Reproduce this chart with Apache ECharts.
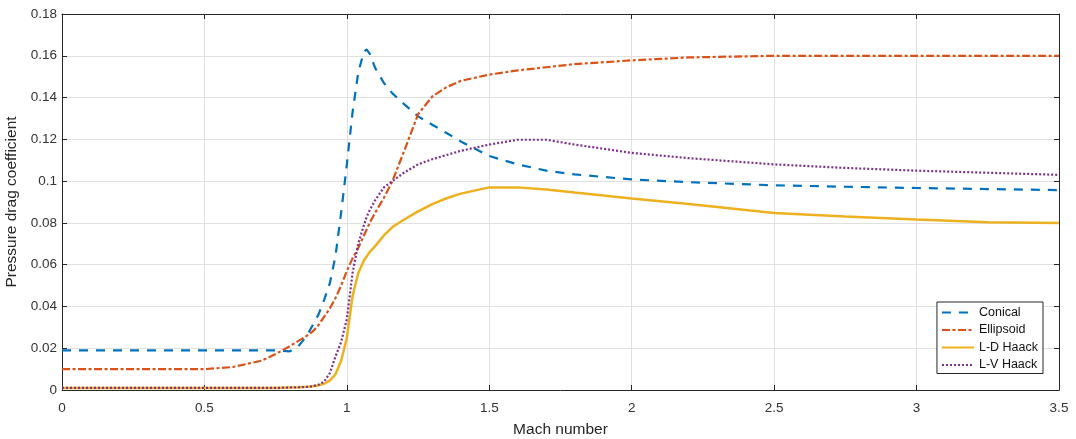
<!DOCTYPE html>
<html>
<head>
<meta charset="utf-8">
<title>Pressure drag coefficient</title>
<script src="https://cdn.jsdelivr.net/npm/echarts@6/dist/echarts.min.js"></script>
<style>
  html, body { margin: 0; padding: 0; background: #fff; }
  #chart { width: 1076px; height: 439px; }
</style>
</head>
<body>
<div id="chart"></div>
<script>
// Mach grid shared by every curve
const mach = [0, 0.5, 0.6, 0.7, 0.75, 0.8, 0.83, 0.86, 0.88, 0.9, 0.92, 0.94, 0.96, 0.98,
  1.0, 1.02, 1.04, 1.06, 1.07, 1.08, 1.1, 1.13, 1.16, 1.2, 1.25, 1.3, 1.35, 1.4, 1.5,
  1.6, 1.7, 1.8, 2.0, 2.2, 2.5, 2.75, 3.0, 3.25, 3.5];

const cdConical = [0.019, 0.019, 0.019, 0.019, 0.019, 0.0185, 0.021, 0.026, 0.031, 0.036, 0.043, 0.051, 0.064, 0.085,
  0.108, 0.133, 0.152, 0.162, 0.163, 0.161, 0.154, 0.147, 0.142, 0.137, 0.131, 0.127, 0.123, 0.119, 0.112,
  0.108, 0.105, 0.1032, 0.1008, 0.0995, 0.098, 0.0973, 0.0967, 0.0962, 0.0957];

const cdEllipsoid = [0.010, 0.010, 0.011, 0.014, 0.0172, 0.021, 0.0235, 0.026, 0.028, 0.031, 0.035, 0.039, 0.044, 0.050,
  0.057, 0.063, 0.068, 0.074, 0.077, 0.080, 0.085, 0.092, 0.100, 0.114, 0.132, 0.1405, 0.145, 0.148, 0.151,
  0.153, 0.1545, 0.156, 0.1578, 0.1592, 0.160, 0.160, 0.160, 0.160, 0.160];

const cdLDHaack = [0.001, 0.001, 0.001, 0.001, 0.001, 0.0012, 0.0013, 0.0015, 0.0018, 0.0022, 0.003, 0.0045, 0.0075, 0.014,
  0.025, 0.045, 0.056, 0.062, 0.064, 0.066, 0.069, 0.074, 0.078, 0.0815, 0.0855, 0.089, 0.0918, 0.094, 0.097,
  0.097, 0.096, 0.0945, 0.0917, 0.089, 0.0847, 0.083, 0.0816, 0.0803, 0.080];

const cdLVHaack = [0.001, 0.001, 0.001, 0.001, 0.001, 0.0012, 0.0013, 0.0015, 0.0018, 0.0025, 0.004, 0.008, 0.016, 0.023,
  0.034, 0.056, 0.070, 0.079, 0.083, 0.086, 0.091, 0.097, 0.100, 0.104, 0.108, 0.1105, 0.1125, 0.1145, 0.1175,
  0.1198, 0.1198, 0.1175, 0.1135, 0.111, 0.108, 0.1063, 0.105, 0.104, 0.103];

const seriesNames = ['Conical', 'Ellipsoid', 'L-D Haack', 'L-V Haack'];
const xTicks = { min: 0, max: 3.5, interval: 0.5 };
const yTicks = { min: 0, max: 0.18, interval: 0.02 };

const font = 'Liberation Sans, Arial, sans-serif';
const axisColor = '#262626';

const chart = echarts.init(document.getElementById('chart'));

const pairs = (ys) => mach.map((m, i) => [m, ys[i]]);

// top / right axes only close the box (MATLAB "box on")
const boxAxis = (pos) => ({
  type: 'value',
  position: pos,
  min: pos === 'top' ? xTicks.min : yTicks.min,
  max: pos === 'top' ? xTicks.max : yTicks.max,
  interval: pos === 'top' ? xTicks.interval : yTicks.interval,
  axisLine: { show: true, onZero: false, lineStyle: { color: axisColor, width: 1 } },
  axisTick: { show: true, inside: true, length: 5, lineStyle: { color: axisColor } },
  axisLabel: { show: false },
  splitLine: { show: false }
});

const option = {
  animation: false,
  backgroundColor: '#fff',
  textStyle: { fontFamily: font },
  grid: { left: 62, right: 17, top: 14, bottom: 49, outerBoundsMode: 'none', containLabel: false },
  legend: {
    data: seriesNames,
    orient: 'vertical',
    right: 33,
    top: 302,
    itemWidth: 32,
    itemHeight: 14,
    itemGap: 4.5,
    padding: [4, 5, 2, 4],
    borderColor: axisColor,
    borderWidth: 1,
    backgroundColor: '#fff',
    itemStyle: { opacity: 0 },
    textStyle: { fontSize: 12.5, color: '#111', fontFamily: font }
  },
  xAxis: [
    {
      type: 'value',
      min: xTicks.min, max: xTicks.max, interval: xTicks.interval,
      name: 'Mach number',
      nameLocation: 'middle',
      nameGap: 32,
      nameTextStyle: { fontSize: 15.5, color: axisColor, fontFamily: font },
      axisLine: { show: true, onZero: false, lineStyle: { color: axisColor, width: 1 } },
      axisTick: { show: true, inside: true, length: 5, lineStyle: { color: axisColor } },
      axisLabel: { fontSize: 13.5, color: '#333', margin: 11, fontFamily: font },
      splitLine: { show: true, lineStyle: { color: '#e0e0e0', width: 1 } }
    },
    boxAxis('top')
  ],
  yAxis: [
    {
      type: 'value',
      min: yTicks.min, max: yTicks.max, interval: yTicks.interval,
      name: 'Pressure drag coefficient',
      nameLocation: 'middle',
      nameGap: 28,
      nameTextStyle: { fontSize: 15.5, color: axisColor, fontFamily: font },
      axisLine: { show: true, onZero: false, lineStyle: { color: axisColor, width: 1 } },
      axisTick: { show: true, inside: true, length: 5, lineStyle: { color: axisColor } },
      axisLabel: { fontSize: 13.5, color: '#333', margin: 5, fontFamily: font },
      splitLine: { show: true, lineStyle: { color: '#e0e0e0', width: 1 } }
    },
    boxAxis('right')
  ],
  series: [
    {
      name: 'Conical', type: 'line', symbol: 'none', data: pairs(cdConical),
      itemStyle: { color: '#0072BD' },
      lineStyle: { color: '#0072BD', width: 2.2, type: [9, 8] }
    },
    {
      name: 'Ellipsoid', type: 'line', symbol: 'none', data: pairs(cdEllipsoid),
      itemStyle: { color: '#D95319' },
      lineStyle: { color: '#D95319', width: 2.2, type: [8, 2.5, 3, 2.5] }
    },
    {
      name: 'L-D Haack', type: 'line', symbol: 'none', data: pairs(cdLDHaack),
      itemStyle: { color: '#EDB120' },
      lineStyle: { color: '#EDB120', width: 2.5 }
    },
    {
      name: 'L-V Haack', type: 'line', symbol: 'none', data: pairs(cdLVHaack),
      itemStyle: { color: '#7E2F8E' },
      lineStyle: { color: '#7E2F8E', width: 2.2, type: [2, 2] }
    }
  ]
};

chart.setOption(option);
</script>
</body>
</html>
